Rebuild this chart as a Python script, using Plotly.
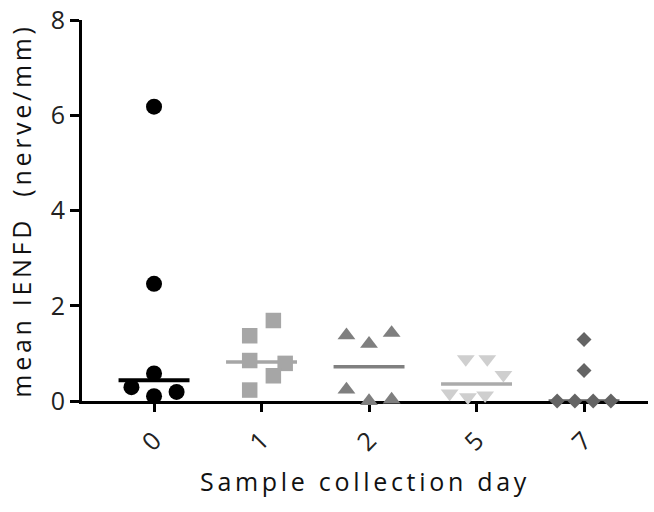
import numpy as np
import plotly.graph_objects as go

# ---- data ----
days = ["0", "1", "2", "5", "7"]
day0 = [6.18, 2.46, 0.58, 0.29, 0.10, 0.19]
day1 = [1.69, 1.37, 0.85, 0.79, 0.53, 0.23]
day2 = [1.43, 1.38, 1.20, 0.24, 0.00, 0.03]
day5 = [0.88, 0.88, 0.55, 0.16, 0.08, 0.12]
day7 = [1.29, 0.64, 0.00, 0.00, 0.00, 0.00]
y_ticks = [0, 2, 4, 6, 8]

series = [day0, day1, day2, day5, day7]

# ---- presentation ----
# horizontal spread of points within each column (category units)
spread = [
    [0, 0, 0, -0.21, 0, 0.21],
    [0.11, -0.11, -0.11, 0.22, 0.11, -0.11],
    [0.21, -0.21, 0, -0.21, 0, 0.21],
    [-0.10, 0.10, 0.25, -0.25, -0.08, 0.08],
    [0, 0, -0.25, -0.085, 0.085, 0.25],
]
symbols = ["circle", "square", "triangle-up", "triangle-down", "diamond"]
sizes = [16, 15.5, 15.5, 15.5, 11.5]
colors = ["#000000", "#a6a6a6", "#7f7f7f", "#cfcfcf", "#646464"]
line_colors = ["#000000", "#a6a6a6", "#808080", "#ababab", "#646464"]
line_widths = [4, 3.5, 3.5, 3.5, 3.5]
half = 0.33

fig = go.Figure()
for i, vals in enumerate(series):
    xs = [i + d for d in spread[i]]
    fig.add_trace(go.Scatter(
        x=xs, y=vals, mode="markers", cliponaxis=False,
        marker=dict(symbol=symbols[i], size=sizes[i], color=colors[i],
                    line=dict(width=0)),
        showlegend=False, hoverinfo="y"))
    med = float(np.median(vals))
    fig.add_trace(go.Scatter(
        x=[i - half, i + half], y=[med, med], mode="lines", cliponaxis=False,
        line=dict(color=line_colors[i], width=line_widths[i]),
        showlegend=False, hoverinfo="skip"))

font_family = "Open Sans"
fig.update_layout(
    width=654, height=512,
    margin=dict(l=82, r=6, t=20, b=111, autoexpand=False),
    plot_bgcolor="white", paper_bgcolor="white",
    font=dict(family=font_family, size=25, color="#111111"),
    xaxis=dict(
        range=[-0.67, 4.595], tickmode="array",
        tickvals=list(range(len(days))), ticktext=days, tickangle=-45,
        showline=True, linecolor="black", linewidth=3,
        ticks="outside", ticklen=8, tickwidth=3, tickcolor="black",
        ticklabelstandoff=4,
        showgrid=False, zeroline=False, layer="below traces",
        tickfont=dict(family=font_family, size=25, color="#222222"),
        title=dict(text="Sample collection day", standoff=18,
                   font=dict(family=font_family, size=25, color="#111111")),
    ),
    yaxis=dict(
        range=[0, 8], tickmode="array", tickvals=y_ticks,
        showline=True, linecolor="black", linewidth=3,
        ticks="outside", ticklen=9, tickwidth=3, tickcolor="black",
        showgrid=False, zeroline=False, layer="below traces",
        tickfont=dict(family=font_family, size=25, color="#222222"),
        title=dict(text="mean IENFD \u00a0(nerve/mm)", standoff=12,
                   font=dict(family=font_family, size=25, color="#111111")),
    ),
)

post = (
    "document.body.style.margin='0';"
    "var gd=document.getElementById('{plot_id}');"
    "gd.querySelectorAll('.xtitle,.ytitle').forEach(function(e){"
    "e.setAttribute('letter-spacing','3.7px');});"
)
fig.write_html("out.html", post_script=post, config={"displayModeBar": False})
